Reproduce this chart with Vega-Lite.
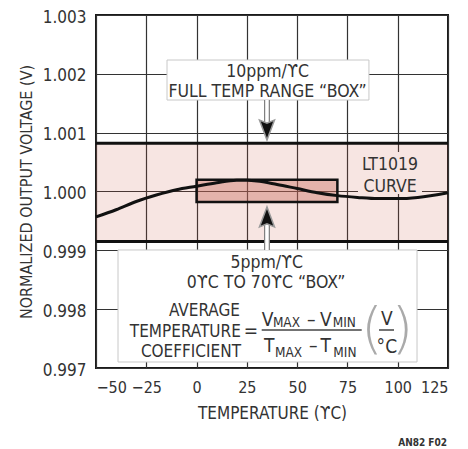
{
  "$schema": "https://vega.github.io/schema/vega-lite/v6.json",
  "width": 352,
  "height": 353,
  "autosize": {"type": "none"},
  "padding": {"left": 96, "top": 15, "right": 20, "bottom": 81},
  "config": {
    "font": "DejaVu Sans Condensed, sans-serif",
    "view": {"stroke": "#1a1a1a", "strokeWidth": 2},
    "axis": {
      "domain": false, "ticks": false, "grid": true,
      "gridColor": "#333", "gridWidth": 1.2, "gridOpacity": 1,
      "labelFont": "DejaVu Sans Condensed, sans-serif",
      "labelFontSize": 17, "labelColor": "#333", "labelOverlap": false,
      "titleFont": "DejaVu Sans Condensed, sans-serif",
      "titleFontSize": 17, "titleFontWeight": "normal", "titleColor": "#333"
    },
    "text": {"font": "DejaVu Sans Condensed, sans-serif", "color": "#333"}
  },
  "datasets": {
    "band": [{"x": -50, "x2": 125, "y": 0.99915, "y2": 1.00082}],
    "bandEdges": [{"x": -50, "x2": 125, "y": 0.99915}, {"x": -50, "x2": 125, "y": 1.00082}],
    "box": [{"x": 0, "x2": 70, "y": 0.99982, "y2": 1.0002}],
    "curve": [
      {"x": -50, "y": 0.99957}, {"x": -40, "y": 0.99969}, {"x": -30, "y": 0.99983},
      {"x": -20, "y": 0.99994}, {"x": -10, "y": 1.00003}, {"x": 0, "y": 1.00009},
      {"x": 10, "y": 1.00015}, {"x": 20, "y": 1.00019}, {"x": 25, "y": 1.00019},
      {"x": 30, "y": 1.00018}, {"x": 40, "y": 1.00012}, {"x": 50, "y": 1.00005},
      {"x": 60, "y": 0.99998}, {"x": 70, "y": 0.99993}, {"x": 80, "y": 0.9999},
      {"x": 90, "y": 0.99988}, {"x": 100, "y": 0.99988}, {"x": 110, "y": 0.9999},
      {"x": 125, "y": 0.99998}
    ],
    "labelBg": [{"x": 80.25, "x2": 112.07, "y": 0.999957, "y2": 1.000671}],
    "labelText": [{"x": 96.17, "y": 1.000365, "t": "LT1019"}, {"x": 96.17, "y": 0.999997, "t": "CURVE"}],
    "textBoxes": [
      {"x": -14.7, "x2": 85.7, "y": 1.001555, "y2": 1.002235},
      {"x": -39.06, "x2": 109.6, "y": 0.997102, "y2": 0.999006}
    ],
    "centerText": [
      {"x": 35.3, "y": 1.001951, "t": "10ppm/ϒC"},
      {"x": 35.3, "y": 1.001611, "t": "FULL TEMP RANGE “BOX”"},
      {"x": 34.9, "y": 0.998695, "t": "5ppm/ϒC"},
      {"x": 34.6, "y": 0.998355, "t": "0ϒC TO 70ϒC “BOX”"}
    ],
    "rightText": [
      {"x": 21.59, "y": 0.997884, "t": "AVERAGE"},
      {"x": 22.0, "y": 0.997532, "t": "TEMPERATURE"},
      {"x": 22.09, "y": 0.997182, "t": "COEFFICIENT"}
    ],
    "bigLeft": [
      {"x": 23.4, "y": 0.997532, "t": "="},
      {"x": 32.38, "y": 0.997714, "t": "V"},
      {"x": 61.36, "y": 0.997714, "t": "V"},
      {"x": 33.52, "y": 0.997277, "t": "T"},
      {"x": 61.66, "y": 0.997277, "t": "T"}
    ],
    "subs": [
      {"x": 37.94, "y": 0.997692, "t": "MAX"},
      {"x": 67.68, "y": 0.997692, "t": "MIN"},
      {"x": 38.99, "y": 0.997182, "t": "MAX"},
      {"x": 68.0, "y": 0.997182, "t": "MIN"}
    ],
    "dashes": [
      {"x": 57.05, "y": 0.997714, "t": "–"},
      {"x": 58.05, "y": 0.997277, "t": "–"}
    ],
    "fracLines": [
      {"x": 32.38, "x2": 82.1, "y": 0.997646},
      {"x": 90.7, "x2": 98.17, "y": 0.997646}
    ],
    "parens": [
      {"x": 87.2, "y": 0.997364, "t": "("},
      {"x": 102.4, "y": 0.997364, "t": ")"}
    ],
    "unitText": [
      {"x": 94.6, "y": 0.997731, "t": "V"},
      {"x": 94.6, "y": 0.99725, "t": "°C"}
    ],
    "shafts": [
      {"x": 35.0, "y": 1.001555, "y2": 1.001181},
      {"x": 35.0, "y": 0.999601, "y2": 0.999006}
    ],
    "headDown": [{"x": 35.0, "y": 1.001088}],
    "headUp": [{"x": 35.0, "y": 0.999524}],
    "footer": [{"x": 124.5, "y": 0.995674, "t": "AN82 F02"}]
  },
  "encoding": {
    "x": {
      "field": "x", "type": "quantitative",
      "scale": {"domain": [-50, 125], "nice": false, "zero": false},
      "axis": {"values": [-50, -25, 0, 25, 50, 75, 100, 125], "labelFontSize": 16, "labelPadding": 11, "titlePadding": 10, "title": "TEMPERATURE (ϒC)"}
    },
    "y": {
      "field": "y", "type": "quantitative",
      "scale": {"domain": [0.997, 1.003], "nice": false, "zero": false},
      "axis": {"values": [0.997, 0.998, 0.999, 1.0, 1.001, 1.002, 1.003], "format": ".3f", "labelPadding": 10, "labelOffset": 2, "titleFontSize": 16, "titlePadding": 8, "title": "NORMALIZED OUTPUT VOLTAGE (V)"}
    }
  },
  "layer": [
    {"data": {"name": "band"}, "mark": {"type": "rect", "fill": "#ca523e", "fillOpacity": 0.15},
     "encoding": {"x2": {"field": "x2"}, "y2": {"field": "y2"}}},
    {"data": {"name": "box"}, "mark": {"type": "rect", "fill": "#c86a5b", "fillOpacity": 0.4},
     "encoding": {"x2": {"field": "x2"}, "y2": {"field": "y2"}}},
    {"data": {"name": "labelBg"}, "mark": {"type": "rect", "fill": "#f7e5e2"},
     "encoding": {"x2": {"field": "x2"}, "y2": {"field": "y2"}}},
    {"data": {"name": "bandEdges"}, "mark": {"type": "rule", "color": "#111", "strokeWidth": 3},
     "encoding": {"x2": {"field": "x2"}}},
    {"data": {"name": "box"}, "mark": {"type": "rect", "filled": false, "stroke": "#111", "strokeWidth": 2.5},
     "encoding": {"x2": {"field": "x2"}, "y2": {"field": "y2"}}},
    {"data": {"name": "curve"}, "mark": {"type": "line", "color": "#111", "strokeWidth": 3, "interpolate": "monotone"}},
    {"data": {"name": "labelText"}, "mark": {"type": "text", "fontSize": 17.5, "align": "center", "baseline": "alphabetic"},
     "encoding": {"text": {"field": "t"}}},
    {"data": {"name": "textBoxes"}, "mark": {"type": "rect", "fill": "white", "stroke": "#c8c8c8", "strokeWidth": 1},
     "encoding": {"x2": {"field": "x2"}, "y2": {"field": "y2"}}},
    {"data": {"name": "shafts"}, "mark": {"type": "rule", "color": "#808080", "strokeWidth": 6},
     "encoding": {"y2": {"field": "y2"}}},
    {"data": {"name": "shafts"}, "mark": {"type": "rule", "color": "white", "strokeWidth": 3.5},
     "encoding": {"y2": {"field": "y2"}}},
    {"data": {"name": "headDown"}, "mark": {"type": "point", "shape": "M0,1L-0.6,-0.6L0,-0.35L0.6,-0.6Z", "size": 625, "filled": true, "fill": "#111", "stroke": "#999", "strokeWidth": 1.5, "opacity": 1}},
    {"data": {"name": "headUp"}, "mark": {"type": "point", "shape": "M0,-1L-0.6,0.6L0,0.35L0.6,0.6Z", "size": 625, "filled": true, "fill": "#111", "stroke": "#999", "strokeWidth": 1.5, "opacity": 1}},
    {"data": {"name": "centerText"}, "mark": {"type": "text", "fontSize": 17.5, "align": "center", "baseline": "alphabetic"},
     "encoding": {"text": {"field": "t"}}},
    {"data": {"name": "rightText"}, "mark": {"type": "text", "fontSize": 17, "align": "right", "baseline": "alphabetic"},
     "encoding": {"text": {"field": "t"}}},
    {"data": {"name": "bigLeft"}, "mark": {"type": "text", "fontSize": 19, "align": "left", "baseline": "alphabetic"},
     "encoding": {"text": {"field": "t"}}},
    {"data": {"name": "subs"}, "mark": {"type": "text", "fontSize": 13.5, "align": "left", "baseline": "alphabetic"},
     "encoding": {"text": {"field": "t"}}},
    {"data": {"name": "dashes"}, "mark": {"type": "text", "fontSize": 19, "align": "center", "baseline": "alphabetic"},
     "encoding": {"text": {"field": "t"}}},
    {"data": {"name": "fracLines"}, "mark": {"type": "rule", "color": "#444", "strokeWidth": 1.5},
     "encoding": {"x2": {"field": "x2"}}},
    {"data": {"name": "parens"}, "mark": {"type": "text", "font": "DejaVu Sans", "fontWeight": 200, "fontSize": 56, "align": "center", "baseline": "alphabetic", "color": "#aaa"},
     "encoding": {"text": {"field": "t"}}},
    {"data": {"name": "unitText"}, "mark": {"type": "text", "fontSize": 19, "align": "center", "baseline": "alphabetic"},
     "encoding": {"text": {"field": "t"}}},
    {"data": {"name": "footer"}, "mark": {"type": "text", "fontSize": 10, "fontWeight": "bold", "align": "right", "baseline": "alphabetic", "color": "#333"},
     "encoding": {"text": {"field": "t"}}}
  ]
}
